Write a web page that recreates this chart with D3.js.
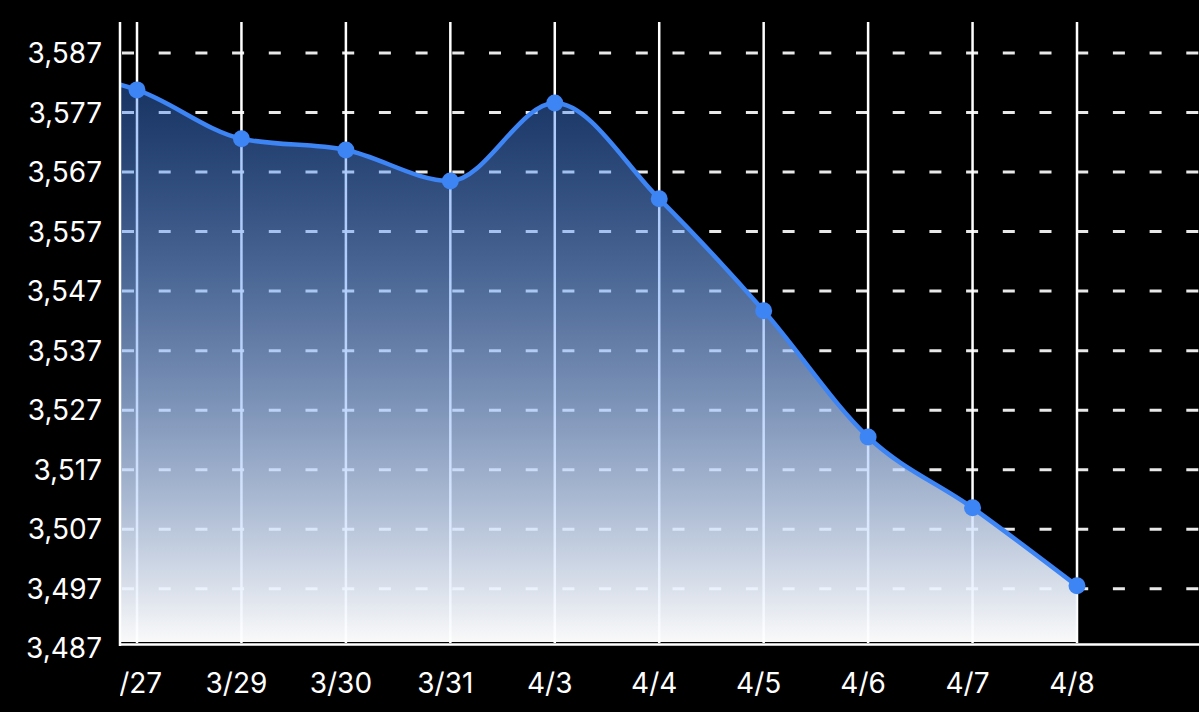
<!DOCTYPE html>
<meta charset="utf-8">
<head>
    <title>Price chart</title>
    <script type="text/javascript" src="https://cdn.jsdelivr.net/npm/d3@7"></script>
    <style>
        html, body { margin: 0; padding: 0; background: #000; }
        svg { display: block; }
        text { font-family: Inter, "Noto Sans", sans-serif; fill: #fff; }
    </style>
</head>
<body>
    <div id="chart"></div>
    <script>
        // data (first point sits left of the visible window)
        var dates = ["3/26", "3/27", "3/29", "3/30", "3/31", "4/3", "4/4", "4/5", "4/6", "4/7", "4/8"];
        var values = [3584.5, 3580.8, 3572.6, 3570.7, 3565.5, 3578.6, 3562.5, 3543.7, 3522.5, 3510.6, 3497.5];
        var yTicks = [3487, 3497, 3507, 3517, 3527, 3537, 3547, 3557, 3567, 3577, 3587];

        var w = 1199, h = 712;
        var plotLeft = 120, plotTop = 22, plotBottom = 643;

        var svg = d3.select("#chart").append("svg")
            .attr("width", w).attr("height", h);

        var x = d3.scaleLinear().domain([1, 10]).range([137, 1077]);
        var y = d3.scaleLinear().domain([3487.9, 3592.2]).range([plotBottom, plotTop]);

        var defs = svg.append("defs");
        defs.append("clipPath").attr("id", "plotClip")
            .append("rect").attr("x", plotLeft).attr("y", 0).attr("width", w - plotLeft).attr("height", plotBottom);
        defs.append("clipPath").attr("id", "labelClip")
            .append("rect").attr("x", plotLeft).attr("y", plotBottom).attr("width", w - plotLeft).attr("height", h - plotBottom);

        var grad = defs.append("linearGradient").attr("id", "areaGrad")
            .attr("gradientUnits", "userSpaceOnUse")
            .attr("x1", 0).attr("x2", 0).attr("y1", 85).attr("y2", plotBottom);
        grad.append("stop").attr("offset", "0%").attr("stop-color", "#3b82f6").attr("stop-opacity", 0.4);
        grad.append("stop").attr("offset", "100%").attr("stop-color", "#ffffff").attr("stop-opacity", 0.98);

        // horizontal dashed grid
        svg.append("g").selectAll("line")
            .data(yTicks.filter(function (d) { return y(d) < plotBottom; }))
            .enter().append("line")
            .attr("x1", plotLeft).attr("x2", w)
            .attr("y1", function (d) { return y(d); })
            .attr("y2", function (d) { return y(d); })
            .attr("stroke", "#e8e8e8")
            .attr("stroke-width", 3)
            .attr("stroke-dasharray", "12 24.7")
            .attr("stroke-dashoffset", -2);

        // vertical grid
        svg.append("g").attr("clip-path", "url(#plotClip)").selectAll("line")
            .data(d3.range(1, dates.length))
            .enter().append("line")
            .attr("x1", function (i) { return x(i); })
            .attr("x2", function (i) { return x(i); })
            .attr("y1", plotTop).attr("y2", plotBottom)
            .attr("stroke", "#fff")
            .attr("stroke-width", 2.5);

        var plot = svg.append("g").attr("clip-path", "url(#plotClip)");

        var area = d3.area()
            .x(function (d, i) { return x(i); })
            .y0(plotBottom - 1)
            .y1(function (d) { return y(d); })
            .curve(d3.curveMonotoneX);

        var line = d3.line()
            .x(function (d, i) { return x(i); })
            .y(function (d) { return y(d); })
            .curve(d3.curveMonotoneX);

        plot.append("path").datum(values)
            .attr("d", area)
            .attr("fill", "url(#areaGrad)");

        plot.append("path").datum(values)
            .attr("d", line)
            .attr("fill", "none")
            .attr("stroke", "#3d84f5")
            .attr("stroke-width", 4.5);

        plot.selectAll("circle")
            .data(values)
            .enter().append("circle")
            .attr("cx", function (d, i) { return x(i); })
            .attr("cy", function (d) { return y(d); })
            .attr("r", 8.5)
            .attr("fill", "#3d84f5");

        // axis lines
        svg.append("line")
            .attr("x1", plotLeft).attr("x2", plotLeft).attr("y1", plotTop).attr("y2", plotBottom + 3)
            .attr("stroke", "#fff").attr("stroke-width", 2.5);
        svg.append("line")
            .attr("x1", plotLeft).attr("x2", w).attr("y1", plotBottom + 1.5).attr("y2", plotBottom + 1.5)
            .attr("stroke", "#fff").attr("stroke-width", 2.5);

        // y labels
        var fmt = d3.format(",");
        svg.append("g").selectAll("text")
            .data(yTicks)
            .enter().append("text")
            .attr("x", 102)
            .attr("y", function (d) { return y(d); })
            .attr("dy", "0.36em")
            .attr("text-anchor", "end")
            .style("font-size", "28px")
            .text(function (d) { return fmt(d); });

        // x labels (only those that reach into the visible window)
        var shown = d3.range(dates.length).filter(function (i) { return x(i) + 30 > plotLeft; });
        svg.append("g").attr("clip-path", "url(#labelClip)").selectAll("text")
            .data(shown)
            .enter().append("text")
            .attr("x", function (i) { return x(i) - 5; })
            .attr("y", 693)
            .attr("text-anchor", "middle")
            .style("font-size", "28px")
            .text(function (i) { return dates[i]; });
    </script>
</body>
</html>
